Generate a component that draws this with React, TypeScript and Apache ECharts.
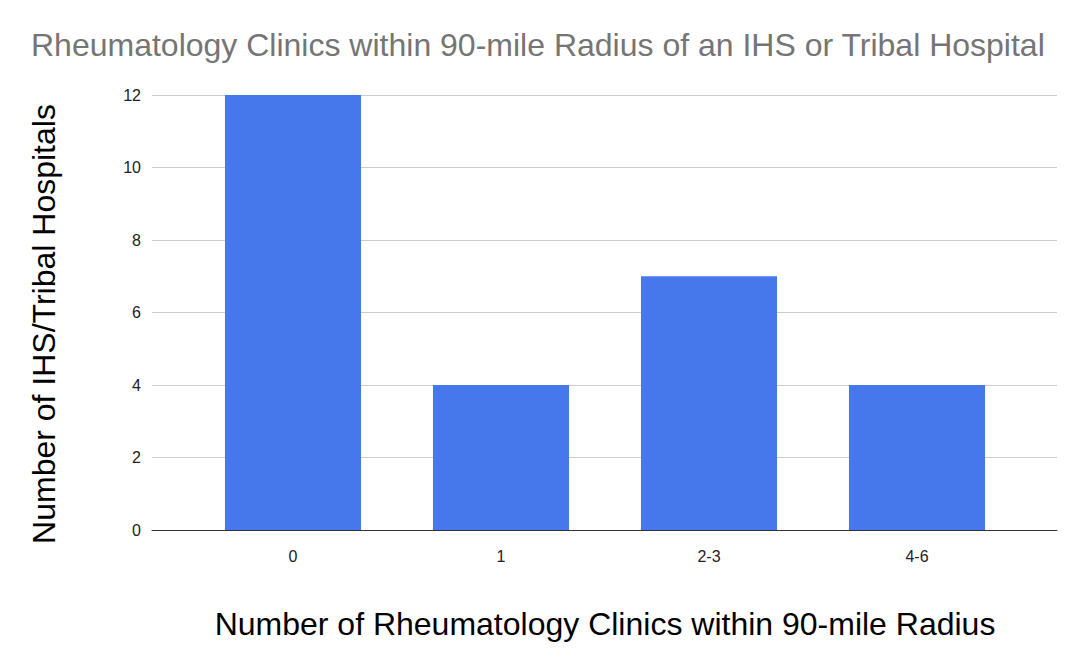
import React, { useEffect, useRef } from "react";
import * as echarts from "echarts";

const categories = ["0", "1", "2-3", "4-6"];
const hospitalCounts = [12, 4, 7, 4];
const yTicks = { min: 0, max: 12, interval: 2 };
const chartTitle = "Rheumatology Clinics within 90-mile Radius of an IHS or Tribal Hospital";
const xTitle = "Number of Rheumatology Clinics within 90-mile Radius";
const yTitle = "Number of IHS/Tribal Hospitals";

const FONT = "'Liberation Sans', Arial, sans-serif";

export default function App() {
  const ref = useRef<HTMLDivElement>(null);
  useEffect(() => {
    const chart = echarts.init(ref.current!, undefined, { renderer: "svg" });
    chart.setOption({
      animation: false,
      backgroundColor: "#ffffff",
      graphic: [
        {
          type: "text",
          x: 31,
          y: 29,
          style: {
            text: chartTitle,
            fill: "#757575",
            fontSize: 32,
            fontFamily: FONT,
            textVerticalAlign: "top",
          },
        },
        {
          type: "text",
          x: 44,
          y: 324,
          rotation: Math.PI / 2,
          style: {
            text: yTitle,
            fill: "#000000",
            fontSize: 32,
            fontFamily: FONT,
            textAlign: "center",
            textVerticalAlign: "middle",
          },
        },
      ],
      grid: [
        { left: 152, right: 29, top: 95, bottom: 139, containLabel: false },
        { left: 189, right: 65, top: 95, bottom: 139, containLabel: false },
      ],
      xAxis: [
        {
          type: "category",
          gridIndex: 0,
          data: categories,
          axisLine: { lineStyle: { color: "#333333", width: 1 } },
          axisTick: { show: false },
          axisLabel: { show: false },
          splitLine: { show: false },
          z: 5,
        },
        {
          type: "category",
          gridIndex: 1,
          data: categories,
          axisLine: { show: false },
          axisTick: { show: false },
          axisLabel: { color: "#222222", fontSize: 16, margin: 18, fontFamily: FONT },
          name: xTitle,
          nameLocation: "middle",
          nameGap: 78,
          nameTextStyle: { color: "#000000", fontSize: 32, fontFamily: FONT },
        },
      ],
      yAxis: [
        {
          type: "value",
          gridIndex: 0,
          min: yTicks.min,
          max: yTicks.max,
          interval: yTicks.interval,
          axisLine: { show: false },
          axisTick: { show: false },
          splitLine: { lineStyle: { color: "#cccccc", width: 1 } },
          axisLabel: { color: "#222222", fontSize: 16, margin: 11, fontFamily: FONT },
        },
        {
          type: "value",
          gridIndex: 1,
          min: yTicks.min,
          max: yTicks.max,
          interval: yTicks.interval,
          show: false,
          splitLine: { show: false },
        },
      ],
      series: [
        {
          type: "bar",
          xAxisIndex: 1,
          yAxisIndex: 1,
          data: hospitalCounts,
          barCategoryGap: "34.6%",
          itemStyle: { color: "#4678ec" },
        },
      ],
    });
    return () => chart.dispose();
  }, []);
  return (
    <div
      ref={ref}
      style={{ position: "fixed", left: 0, top: 0, width: 1086, height: 669, background: "#fff" }}
    />
  );
}
